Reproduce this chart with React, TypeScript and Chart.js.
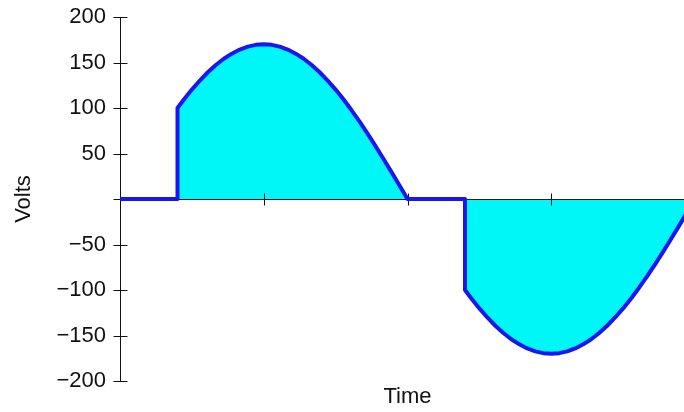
import React, { useEffect, useRef } from "react";
import { Chart, registerables } from "chart.js";

Chart.register(...registerables);

// Phase angle (degrees) across the time axis and the voltage read at each point
const angles = [
  0, 36, 36, 40, 45, 50, 55, 60, 65, 70, 75, 80, 85, 90, 95, 100, 105, 110, 115, 120,
  125, 130, 135, 140, 145, 150, 155, 160, 165, 170, 175, 180,
  216, 216, 220, 225, 230, 235, 240, 245, 250, 255, 260, 265, 270, 275, 280, 285, 290,
  295, 300, 305, 310, 315, 320, 325, 330, 335, 340, 345, 350, 355, 360,
];
const volts = [
  0, 0, 100, 109.3, 120.2, 130.2, 139.3, 147.2, 154.1, 159.7, 164.2, 167.4, 169.4, 170,
  169.4, 167.4, 164.2, 159.7, 154.1, 147.2, 139.3, 130.2, 120.2, 109.3, 97.5, 85, 71.8,
  58.1, 44, 29.5, 14.8, 0,
  0, -100, -109.3, -120.2, -130.2, -139.3, -147.2, -154.1, -159.7, -164.2, -167.4, -169.4,
  -170, -169.4, -167.4, -164.2, -159.7, -154.1, -147.2, -139.3, -130.2, -120.2, -109.3,
  -97.5, -85, -71.8, -58.1, -44, -29.5, -14.8, 0,
];
const xTickValues = [90, 180, 270];
const yTickValues = [200, 150, 100, 50, 0, -50, -100, -150, -200];
const yTickLabels = ["200", "150", "100", "50", "", "\u221250", "\u2212100", "\u2212150", "\u2212200"];
const yTitle = "Volts";
const xTitle = "Time";

const axesPlugin = {
  id: "crossAxes",
  beforeDatasetsDraw(chart: any) {
    const { ctx, chartArea, scales } = chart;
    const xs = scales.x;
    const ys = scales.y;
    ctx.save();
    ctx.strokeStyle = "#111";
    ctx.lineWidth = 1;
    const y0 = Math.round(ys.getPixelForValue(0)) + 0.5;
    const xl = Math.round(chartArea.left) + 0.5;
    ctx.beginPath();
    ctx.moveTo(xl, Math.round(ys.getPixelForValue(200)));
    ctx.lineTo(xl, Math.round(ys.getPixelForValue(-200)) + 1);
    ctx.moveTo(chartArea.left, y0);
    ctx.lineTo(chartArea.right, y0);
    yTickValues.forEach((v) => {
      const py = Math.round(ys.getPixelForValue(v)) + 0.5;
      ctx.moveTo(xl - 7, py);
      ctx.lineTo(xl + 7, py);
    });
    xTickValues.forEach((v) => {
      const px = Math.round(xs.getPixelForValue(v)) + 0.5;
      ctx.moveTo(px, y0 - 6);
      ctx.lineTo(px, y0 + 6);
    });
    ctx.stroke();
    ctx.restore();
  },
};

export default function App() {
  const ref = useRef<HTMLCanvasElement>(null);
  useEffect(() => {
    document.body.style.margin = "0";
    const points = angles.map((a, i) => ({ x: a, y: volts[i] }));
    const chart = new Chart(ref.current!, {
      type: "line",
      data: {
        datasets: [
          {
            data: points,
            borderColor: "#1616f2",
            backgroundColor: "#00f7f7",
            borderWidth: 4,
            pointRadius: 0,
            tension: 0,
            fill: "origin",
            borderJoinStyle: "round",
          },
        ],
      },
      options: {
        animation: false,
        responsive: false,
        devicePixelRatio: 1,
        layout: { padding: { top: 17, left: 0, right: 0, bottom: 0 } },
        plugins: {
          legend: { display: false },
          tooltip: { enabled: false },
          filler: { drawTime: "beforeDatasetsDraw" },
        },
        scales: {
          x: {
            type: "linear",
            min: 0,
            max: 360,
            grid: { display: false, drawTicks: false },
            border: { display: false },
            ticks: { display: false },
            title: {
              display: true,
              text: xTitle,
              color: "#111",
              font: { family: "'Liberation Sans', Arial, sans-serif", size: 22 },
              padding: { top: 0, bottom: 2 },
            },
            afterFit: (s: any) => {
              s.height = 31;
              s.paddingLeft = 0;
              s.paddingRight = 0;
            },
          },
          y: {
            min: -200,
            max: 200,
            grid: { display: false, drawTicks: false },
            border: { display: false },
            afterBuildTicks: (s: any) => {
              s.ticks = yTickValues.map((v) => ({ value: v }));
            },
            ticks: {
              padding: 14,
              color: "#111",
              font: { family: "'Liberation Sans', Arial, sans-serif", size: 22 },
              callback: (v: any) => {
                const i = yTickValues.indexOf(Number(v));
                return i >= 0 ? yTickLabels[i] : "";
              },
            },
            title: {
              display: true,
              text: yTitle,
              color: "#111",
              font: { family: "'Liberation Sans', Arial, sans-serif", size: 22 },
              padding: { top: 11, bottom: 0 },
            },
            afterFit: (s: any) => {
              s.width = 120;
              s.paddingTop = 0;
              s.paddingBottom = 0;
            },
          },
        },
      } as any,
      plugins: [axesPlugin],
    });
    return () => chart.destroy();
  }, []);
  return (
    <div style={{ width: 684, height: 412, overflow: "hidden", background: "#fff" }}>
      <canvas ref={ref} width={695} height={412} style={{ display: "block" }} />
    </div>
  );
}
